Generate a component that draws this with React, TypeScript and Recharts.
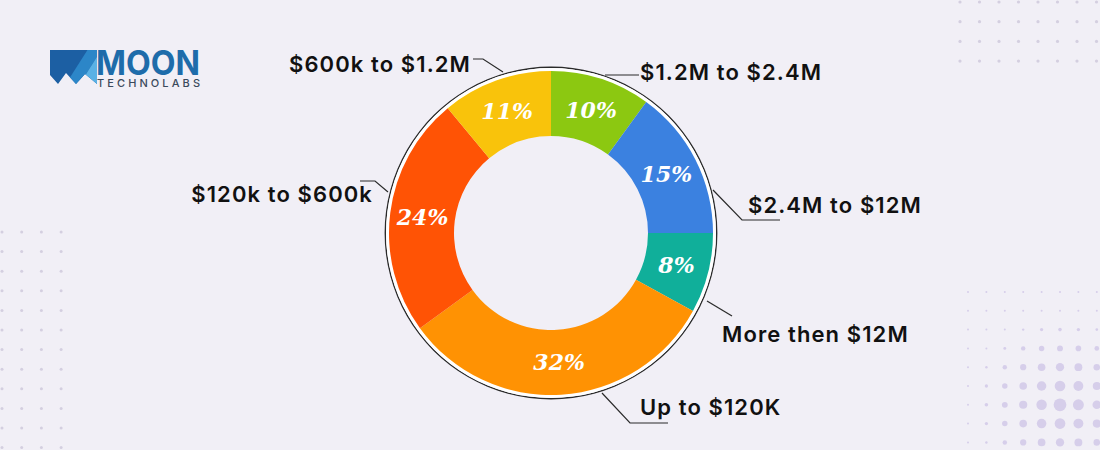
import React from "react";
import { PieChart, Pie, Cell } from "recharts";

// ---- data ----
const categories = [
  "$1.2M to $2.4M",
  "$2.4M to $12M",
  "More then $12M",
  "Up to $120K",
  "$120k to $600k",
  "$600k to $1.2M",
];
const shares = [10, 15, 8, 32, 24, 11];
const colors = ["#8CC811", "#3B81E0", "#10AF9A", "#FF9203", "#FF5305", "#F9C30B"];

// leader-line layout, offsets relative to pie centre (px)
const leaderLayout = [
  { pts: [[54, -158], [88, -158]], text: [89, -153], anchor: "start" },
  { pts: [[162, -43], [191, -13], [229, -13]], text: [197, -20], anchor: "start" },
  { pts: [[156, 68], [181, 83]], text: [171, 109], anchor: "start" },
  { pts: [[51, 160], [79, 190], [117, 190]], text: [89, 182], anchor: "start" },
  { pts: [[-163, -41], [-176, -52], [-191, -52]], text: [-178, -31], anchor: "end" },
  { pts: [[-48, -161], [-68, -174], [-78, -174]], text: [-80, -161], anchor: "end" },
];

const data = categories.map((name, i) => ({ name, value: shares[i] }));
const ring = [{ name: "ring", value: 1 }];

const RAD = Math.PI / 180;
const BG = "#F1EFF6";

const renderLabel = (props: any) => {
  const { cx, cy, midAngle, innerRadius, outerRadius, index, value } = props;
  const r = (innerRadius + outerRadius) / 2;
  const x = cx + r * Math.cos(-midAngle * RAD);
  const y = cy + r * Math.sin(-midAngle * RAD);
  const lay = leaderLayout[index];
  const d = lay.pts
    .map((p: number[], k: number) => `${k === 0 ? "M" : "L"}${cx + p[0]},${cy + p[1]}`)
    .join(" ");
  return (
    <g key={`lbl-${index}`}>
      <text
        x={x}
        y={y}
        fill="#fff"
        textAnchor="middle"
        dominantBaseline="central"
        fontFamily="'DejaVu Serif', serif"
        fontStyle="italic"
        fontWeight={700}
        fontSize={22}
      >
        {value}%
      </text>
      <path d={d} stroke="#2a2a2a" strokeWidth={1.2} fill="none" />
      <text
        x={cx + lay.text[0]}
        y={cy + lay.text[1]}
        fill="#111"
        textAnchor={lay.anchor}
        fontFamily="Inter, sans-serif"
        fontWeight={600}
        fontSize={22}
        letterSpacing={1.1}
      >
        {categories[index]}
      </text>
    </g>
  );
};

function Dots() {
  const els: React.ReactNode[] = [];
  for (let i = 0; i < 8; i++)
    for (let j = 0; j < 4; j++)
      els.push(<circle key={`tr${i}-${j}`} cx={960 + i * 19.5} cy={2 + j * 19.7} r={1.6} fill="#D4CFE0" />);
  for (let i = 0; i < 4; i++)
    for (let j = 0; j < 12; j++)
      els.push(<circle key={`l${i}-${j}`} cx={2 + i * 19.7} cy={232 + j * 19.6} r={1.5} fill="#D4CFE0" />);
  for (let i = 0; i < 8; i++)
    for (let j = 0; j < 9; j++) {
      const x = 968 + i * 18.4;
      const y = 292 + j * 18.8;
      const dist = Math.hypot(x - 1062, y - 405);
      const r = Math.max(1, 6.5 - dist / 16);
      els.push(<circle key={`br${i}-${j}`} cx={x} cy={y} r={r} fill="#D6CEEA" />);
    }
  return (
    <svg width={1100} height={450} style={{ position: "absolute", left: 0, top: 0 }}>
      {els}
    </svg>
  );
}

function Logo() {
  return (
    <svg width={220} height={60} style={{ position: "absolute", left: 40, top: 40 }}>
      <defs>
        <clipPath id="mclip">
          <polygon points="10,10 57,10 57,44 45,34 36,44 26,33 18,44 10,35" />
        </clipPath>
      </defs>
      <g clipPath="url(#mclip)">
        <rect x={0} y={0} width={70} height={60} fill="#1C5FA3" />
        <polygon points="22,50 50,6 60,6 60,12 36,50" fill="#2C86C8" />
        <polygon points="36,50 60,12 60,50" fill="#5AB1E5" />
      </g>
      <text
        x={56}
        y={35}
        fontFamily="Inter, sans-serif"
        fontWeight={700}
        fontSize={34}
        fill="#1E6CAA"
        textLength={104}
        lengthAdjust="spacingAndGlyphs"
      >
        MOON
      </text>
      <text
        x={57}
        y={46.5}
        fontFamily="Inter, sans-serif"
        fontWeight={500}
        fontSize={11}
        fill="#3B4A5C"
        textLength={103}
        lengthAdjust="spacing"
      >
        TECHNOLABS
      </text>
    </svg>
  );
}

export default function App() {
  return (
    <div
      style={{
        position: "fixed",
        left: 0,
        top: 0,
        width: 1100,
        height: 450,
        background: BG,
        overflow: "hidden",
      }}
    >
      <Dots />
      <Logo />
      <div style={{ position: "absolute", left: 0, top: 0 }}>
        <PieChart width={1100} height={450}>
          <Pie
            data={ring}
            dataKey="value"
            cx={546}
            cy={228}
            innerRadius={165}
            outerRadius={166.4}
            startAngle={90}
            endAngle={-270}
            stroke="none"
            fill="#2a2a2a"
            isAnimationActive={false}
          />
          <Pie
            data={ring}
            dataKey="value"
            cx={546}
            cy={228}
            innerRadius={161}
            outerRadius={165}
            startAngle={90}
            endAngle={-270}
            stroke="none"
            fill="#ffffff"
            isAnimationActive={false}
          />
          <Pie
            data={data}
            dataKey="value"
            nameKey="name"
            cx={546}
            cy={228}
            innerRadius={97}
            outerRadius={162}
            startAngle={90}
            endAngle={-270}
            stroke="none"
            label={renderLabel}
            labelLine={false}
            isAnimationActive={false}
          >
            {data.map((d, i) => (
              <Cell key={d.name} fill={colors[i]} />
            ))}
          </Pie>
        </PieChart>
      </div>
    </div>
  );
}
